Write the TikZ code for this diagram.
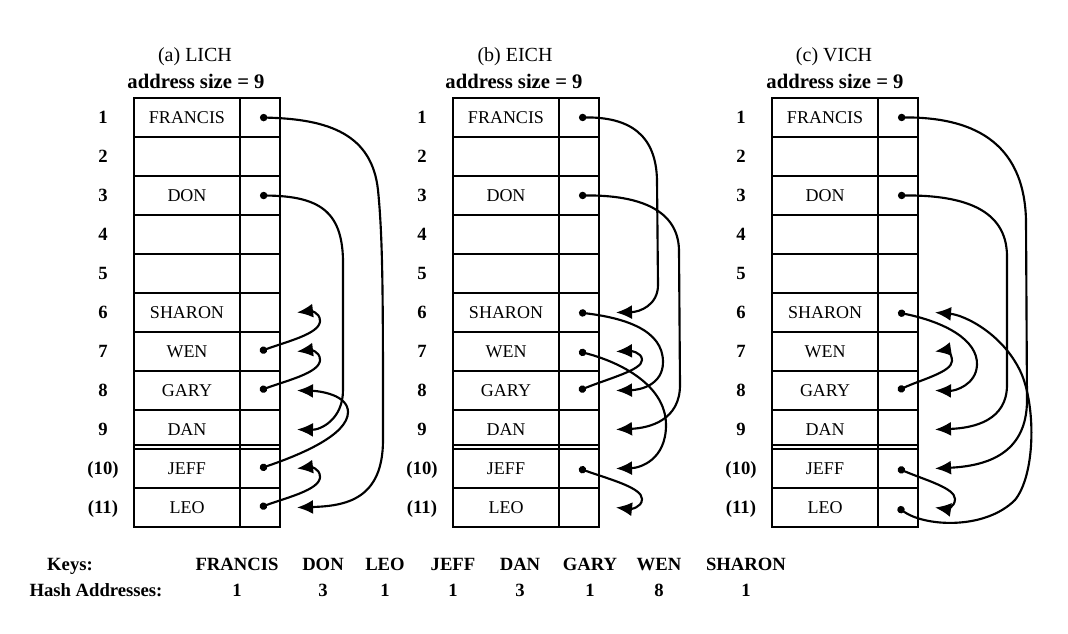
\documentclass[tikz,border=0pt]{standalone}
\usepackage{fontspec}
\setmainfont{Liberation Serif}
\usetikzlibrary{arrows.meta,calc}
\begin{document}
\begin{tikzpicture}[x=0.75pt,y=-0.75pt,
  keycell/.style={draw,line width=1pt,minimum width=79.5pt,minimum height=29.25pt,inner sep=0pt,outer sep=0pt,text height=9.5pt,text depth=0pt,font=\fontsize{13.5}{14}\selectfont},
  ptrcell/.style={draw,line width=1pt,minimum width=30pt,minimum height=29.25pt,inner sep=0pt,outer sep=0pt},
  rowlab/.style={text height=9.5pt,text depth=0pt,inner sep=0pt,font=\bfseries\fontsize{14}{14}\selectfont},
  ttl/.style={font=\fontsize{15}{16}\selectfont},
  addr/.style={font=\bfseries\fontsize{15.5}{16}\selectfont},
  keytxt/.style={text height=9.5pt,text depth=0pt,inner sep=0pt,font=\bfseries\fontsize{14}{14}\selectfont},
  link/.style={line width=1.6pt,{Circle[length=5.5pt]}-{Latex[length=12pt,width=10.5pt]}},
  sep/.style={line width=1pt}]
\useasboundingbox (0,0) rectangle (1068,634);
\foreach \t/\L/\lab in {a/134/103, b/453/422, c/772/741} {
  \foreach \i/\k/\n in {1/FRANCIS/1,2//2,3/DON/3,4//4,5//5,6/SHARON/6,7/WEN/7,8/GARY/8,9/DAN/9,10/JEFF/{(10)},11/LEO/{(11)}} {
    \node[keycell] (\t-k\i) at (\L+53, 98+39*\i-19.5) {\k};
    \node[ptrcell] (\t-p\i) at (\L+126, 98+39*\i-19.5) {};
    \coordinate (\t-t\i) at ($(\t-p\i.east)+(17,0)$);
    \node[rowlab] (\t-n\i) at (\lab, 98+39*\i-19.5) {\n};
  }
  \draw[sep] (\L,445) -- (\L+146,445);
}
% titles
\node[ttl] (ta) at (195,57) {(a) LICH};
\node[addr] (sa) at (196,81) {address size = 9};
\node[ttl] (tb) at (515,57) {(b) EICH};
\node[addr] (sb) at (514,81) {address size = 9};
\node[ttl] (tc) at (834,57) {(c) VICH};
\node[addr] (sc) at (835,81) {address size = 9};
% (a) LICH
\draw[link] (a-p1.center) .. controls (330,119) and (372,135) .. (378,190) .. controls (383,240) and (383,300) .. (383,440) .. controls (383,500) and (345,506) .. (a-t11);
\draw[link] (a-p3.center) .. controls (320,196) and (342,212) .. (343,260) -- (343,390) .. controls (343,420) and (320,430) .. (a-t9);
\draw[link] (a-p10.center) .. controls (300,455) and (348,435) .. (348,412) .. controls (348,395) and (320,391) .. (a-t8);
\draw[link] (a-p11.center) .. controls (285,498) and (320,490) .. (320,477) .. controls (320,468) and (310,467) .. (a-t10);
\draw[link] (a-p8.center) .. controls (285,381) and (320,373) .. (320,360) .. controls (320,351) and (310,350) .. (a-t7);
\draw[link] (a-p7.center) .. controls (285,342) and (320,334) .. (320,321) .. controls (320,312) and (310,311) .. (a-t6);
% (b) EICH
\draw[link] (b-p1.center) .. controls (630,117) and (656,135) .. (657,180) -- (658,285) .. controls (658,305) and (640,312) .. (b-t6);
\draw[link] (b-p3.center) .. controls (640,195) and (678,210) .. (679,250) -- (680,385) .. controls (680,420) and (650,428) .. (b-t9);
\draw[link] (b-p6.center) .. controls (625,318) and (663,330) .. (663,362) .. controls (663,385) and (640,390) .. (b-t8);
\draw[link] (b-p8.center) .. controls (610,378) and (642,370) .. (642,360) .. controls (642,352) and (630,351) .. (b-t7);
\draw[link] (b-p7.center) .. controls (620,362) and (666,385) .. (666,425) .. controls (666,460) and (640,468) .. (b-t10);
\draw[link] (b-p10.center) .. controls (612,480) and (642,488) .. (642,499) .. controls (642,508) and (630,509) .. (b-t11);
% (c) VICH
\draw[link] (c-p1.center) .. controls (970,117) and (1024,140) .. (1026,220) -- (1027,400) .. controls (1027,455) and (985,466) .. (c-t10);
\draw[link] (c-p3.center) .. controls (965,195) and (1006,210) .. (1007,255) -- (1007,385) .. controls (1007,420) and (975,428) .. (c-t9);
\draw[link] (c-p11.center) .. controls (925,527) and (985,530) .. (1015,500) .. controls (1035,475) and (1036,410) .. (1022,375) .. controls (1005,335) and (965,315) .. (c-t6);
\draw[link] (c-p6.center) .. controls (945,322) and (978,340) .. (977,365) .. controls (976,385) and (955,391) .. (c-t8);
\draw[link] (c-p8.center) .. controls (920,380) and (952,372) .. (952,361) .. controls (952,352) and (945,350) .. (c-t7);
\draw[link] (c-p10.center) .. controls (925,480) and (955,488) .. (955,499) .. controls (955,508) and (945,509) .. (c-t11);
% keys
\node[keytxt] (keys) at (70,564) {Keys:};
\node[keytxt] (hash) at (96,590) {Hash Addresses:};
\foreach \x/\k/\h in {237/FRANCIS/1, 323/DON/3, 385/LEO/1, 453/JEFF/1, 520/DAN/3, 590/GARY/1, 659/WEN/8, 746/SHARON/1} {
  \node[keytxt] (key-\k) at (\x,564) {\k};
  \node[keytxt] (h-\k) at (\x,590) {\h};
}
\end{tikzpicture}
\end{document}
